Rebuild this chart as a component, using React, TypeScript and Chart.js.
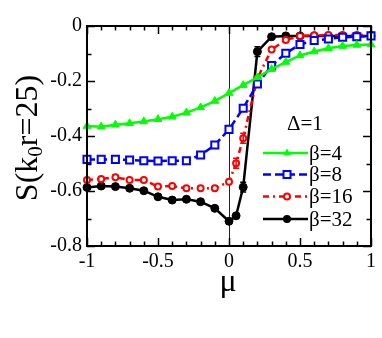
import React, { useEffect, useRef } from 'react';
import { Chart, registerables } from 'chart.js';

Chart.register(...registerables);

// ---- data ----
const muCoarse = [-1, -0.9, -0.8, -0.7, -0.6, -0.5, -0.4, -0.3, -0.2, -0.1, 0, 0.1, 0.2, 0.3, 0.4, 0.5, 0.6, 0.7, 0.8, 0.9, 1];
const muFine = [-1, -0.9, -0.8, -0.7, -0.6, -0.5, -0.4, -0.3, -0.2, -0.1, 0, 0.05, 0.1, 0.2, 0.3, 0.4, 0.5, 0.6, 0.7, 0.8, 0.9, 1];

const sBeta4 = [-0.364, -0.366, -0.359, -0.354, -0.347, -0.339, -0.33, -0.315, -0.296, -0.273, -0.244, -0.215, -0.187, -0.157, -0.131, -0.107, -0.093, -0.081, -0.073, -0.069, -0.067];
const sBeta8 = [-0.485, -0.485, -0.485, -0.487, -0.49, -0.491, -0.49, -0.49, -0.469, -0.433, -0.376, -0.299, -0.211, -0.144, -0.099, -0.067, -0.053, -0.047, -0.041, -0.039, -0.036];
const sBeta16 = [-0.56, -0.556, -0.55, -0.56, -0.56, -0.584, -0.582, -0.59, -0.59, -0.59, -0.566, -0.499, -0.408, -0.19, -0.085, -0.051, -0.036, -0.034, -0.033, -0.033, -0.033, -0.033];
const sBeta32 = [-0.587, -0.582, -0.584, -0.59, -0.599, -0.621, -0.633, -0.63, -0.639, -0.663, -0.71, -0.69, -0.586, -0.093, -0.039, -0.036, -0.036, -0.036, -0.036, -0.036, -0.036, -0.036];
const errBeta16 = [0, 0, 0, 0, 0, 0, 0, 0, 0, 0, 0, 0.018, 0.018, 0, 0, 0, 0, 0, 0, 0, 0, 0];
const errBeta32 = [0, 0, 0, 0, 0, 0, 0, 0, 0, 0, 0, 0.01, 0.018, 0.018, 0, 0, 0, 0, 0, 0, 0, 0];

const seriesLabels = ['β=4', 'β=8', 'β=16', 'β=32'];
const xTicks = [-1, -0.5, 0, 0.5, 1];
const yTicks = [0, -0.2, -0.4, -0.6, -0.8];
const minorStep = 0.1;

const SERIF = '"Liberation Serif", "DejaVu Serif", serif';

const colors = ['#00ff00', '#0000ff', '#ff0000', '#000000'];
const dashes: number[][] = [[], [8, 4], [6, 4, 2, 4], []];

function drawMarker(ctx: CanvasRenderingContext2D, i: number, x: number, y: number) {
  ctx.save();
  ctx.setLineDash([]);
  ctx.strokeStyle = colors[i];
  ctx.beginPath();
  if (i === 0) {
    const r = 4.5;
    ctx.fillStyle = colors[i];
    ctx.moveTo(x, y - r);
    ctx.lineTo(x + r * 0.866, y + r * 0.5);
    ctx.lineTo(x - r * 0.866, y + r * 0.5);
    ctx.closePath();
    ctx.fill();
  } else if (i === 1) {
    ctx.fillStyle = '#fff';
    ctx.lineWidth = 2;
    ctx.rect(x - 3.5, y - 3.5, 7, 7);
    ctx.fill();
    ctx.stroke();
  } else if (i === 2) {
    ctx.fillStyle = '#fff';
    ctx.lineWidth = 2;
    ctx.arc(x, y, 3, 0, Math.PI * 2);
    ctx.fill();
    ctx.stroke();
  } else {
    ctx.fillStyle = colors[i];
    ctx.arc(x, y, 4, 0, Math.PI * 2);
    ctx.fill();
  }
  ctx.restore();
}

const errs = [null, null, errBeta16, errBeta32];

const framePlugin = {
  id: 'framePlugin',
  beforeDatasetsDraw(chart: any) {
    const { ctx, chartArea } = chart;
    const xs = chart.scales.x;
    const x0 = Math.round(xs.getPixelForValue(0)) + 0.5;
    ctx.save();
    ctx.strokeStyle = '#222';
    ctx.lineWidth = 1;
    ctx.beginPath();
    ctx.moveTo(x0, chartArea.top);
    ctx.lineTo(x0, chartArea.bottom);
    ctx.stroke();
    ctx.restore();
  },
  afterDatasetsDraw(chart: any) {
    const { ctx } = chart;
    const xs = chart.scales.x;
    const ys = chart.scales.y;
    ctx.save();
    ctx.setLineDash([]);
    ctx.lineWidth = 1.5;
    errs.forEach((e, di) => {
      if (!e) return;
      const data = chart.data.datasets[di].data;
      ctx.strokeStyle = colors[di];
      e.forEach((ev: number, k: number) => {
        if (!ev) return;
        const px = xs.getPixelForValue(data[k].x);
        const y1 = ys.getPixelForValue(data[k].y + ev);
        const y2 = ys.getPixelForValue(data[k].y - ev);
        ctx.beginPath();
        ctx.moveTo(px, y1);
        ctx.lineTo(px, y2);
        ctx.moveTo(px - 3, y1);
        ctx.lineTo(px + 3, y1);
        ctx.moveTo(px - 3, y2);
        ctx.lineTo(px + 3, y2);
        ctx.stroke();
      });
    });
    ctx.restore();
  },
  afterDraw(chart: any) {
    const { ctx, chartArea } = chart;
    const { left, right, top, bottom } = chartArea;
    const xs = chart.scales.x;
    const ys = chart.scales.y;
    ctx.save();
    ctx.setLineDash([]);
    ctx.strokeStyle = '#000';
    ctx.lineWidth = 2;
    ctx.strokeRect(left, top, right - left, bottom - top);

    // ticks, inward, on all four sides
    ctx.lineWidth = 1.5;
    ctx.beginPath();
    const nx = Math.round((xs.max - xs.min) / minorStep);
    for (let k = 0; k <= nx; k++) {
      const v = xs.min + k * minorStep;
      const major = xTicks.some((t) => Math.abs(t - v) < 1e-6);
      const len = major ? 8 : 4.5;
      const px = Math.round(xs.getPixelForValue(v)) + 0.5;
      ctx.moveTo(px, bottom);
      ctx.lineTo(px, bottom - len);
      ctx.moveTo(px, top);
      ctx.lineTo(px, top + len);
    }
    const ny = Math.round((ys.max - ys.min) / minorStep);
    for (let k = 0; k <= ny; k++) {
      const v = ys.min + k * minorStep;
      const major = yTicks.some((t) => Math.abs(t - v) < 1e-6);
      const len = major ? 8 : 4.5;
      const py = Math.round(ys.getPixelForValue(v)) + 0.5;
      ctx.moveTo(left, py);
      ctx.lineTo(left + len, py);
      ctx.moveTo(right, py);
      ctx.lineTo(right - len, py);
    }
    ctx.stroke();

    // axis titles
    ctx.fillStyle = '#000';
    ctx.textAlign = 'center';
    ctx.textBaseline = 'alphabetic';
    ctx.font = `32px ${SERIF}`;
    ctx.fillText('μ', 228, 291);

    ctx.save();
    ctx.translate(37, (top + bottom) / 2 + 2);
    ctx.rotate(-Math.PI / 2);
    ctx.textAlign = 'left';
    const bigFont = `32px ${SERIF}`;
    const smallFont = `21px ${SERIF}`;
    const p1 = 'S(k';
    const p2 = '0';
    const p3 = 'r=25)';
    ctx.font = bigFont;
    const w1 = ctx.measureText(p1).width;
    const w3 = ctx.measureText(p3).width;
    ctx.font = smallFont;
    const w2 = ctx.measureText(p2).width;
    let cx = -(w1 + w2 + w3) / 2;
    ctx.font = bigFont;
    ctx.fillText(p1, cx, 0);
    cx += w1;
    ctx.font = smallFont;
    ctx.fillText(p2, cx, 5);
    cx += w2;
    ctx.font = bigFont;
    ctx.fillText(p3, cx, 0);
    ctx.restore();

    // legend
    ctx.textAlign = 'left';
    ctx.textBaseline = 'alphabetic';
    ctx.font = `21px ${SERIF}`;
    ctx.fillText('Δ=1', 287, 130);
    const legendY = [153, 174.5, 196.5, 219];
    const lx1 = 263;
    const lx2 = 308;
    const lm = 287;
    seriesLabels.forEach((lab, i) => {
      const y = legendY[i];
      ctx.save();
      ctx.strokeStyle = colors[i];
      ctx.lineWidth = 2.5;
      ctx.setLineDash(dashes[i]);
      ctx.beginPath();
      ctx.moveTo(lx1, y);
      ctx.lineTo(lx2, y);
      ctx.stroke();
      ctx.restore();
      drawMarker(ctx, i, lm, y);
      ctx.fillStyle = '#000';
      ctx.textBaseline = 'middle';
      ctx.font = `21px ${SERIF}`;
      ctx.fillText(lab, lx2 + 1, y + 1);
    });
    ctx.restore();
  },
};

export default function App() {
  const ref = useRef<HTMLCanvasElement | null>(null);
  useEffect(() => {
    const canvas = ref.current;
    if (!canvas) return;
    let chart: any = null;
    let cancelled = false;
    const mk = (xs: number[], ys: number[], i: number, extra: any) => ({
      label: seriesLabels[i],
      data: xs.map((m, k) => ({ x: m, y: ys[k] })),
      borderColor: colors[i],
      backgroundColor: colors[i],
      borderWidth: 2.5,
      borderDash: dashes[i],
      tension: 0,
      clip: false,
      ...extra,
    });
    const build = () => {
      if (cancelled) return;
      chart = new Chart(canvas, {
        type: 'line',
        data: {
          datasets: [
            mk(muCoarse, sBeta4, 0, { pointStyle: 'triangle', pointRadius: 4.5, pointBorderWidth: 1, pointBackgroundColor: colors[0] }),
            mk(muCoarse, sBeta8, 1, { pointStyle: 'rect', pointRadius: 5, pointBorderWidth: 2, pointBackgroundColor: '#fff' }),
            mk(muFine, sBeta16, 2, { pointStyle: 'circle', pointRadius: 3, pointBorderWidth: 2, pointBackgroundColor: '#fff' }),
            mk(muFine, sBeta32, 3, { pointStyle: 'circle', pointRadius: 4, pointBorderWidth: 1, pointBackgroundColor: colors[3] }),
          ],
        },
        options: {
          responsive: false,
          animation: false,
          devicePixelRatio: 1,
          layout: { padding: { top: 26, right: 11, left: 0, bottom: 0 } },
          plugins: { legend: { display: false }, tooltip: { enabled: false } },
          scales: {
            x: {
              type: 'linear',
              min: -1,
              max: 1,
              afterBuildTicks: (s: any) => {
                s.ticks = xTicks.map((v) => ({ value: v }));
              },
              afterFit: (s: any) => {
                s.height = 92;
              },
              ticks: {
                color: '#000',
                font: { family: SERIF, size: 20 },
                padding: 4,
                maxRotation: 0,
                autoSkip: false,
                callback: (v: any) => String(v),
              },
              grid: { display: false, drawTicks: false },
              border: { display: false },
            },
            y: {
              type: 'linear',
              min: -0.8,
              max: 0,
              afterBuildTicks: (s: any) => {
                s.ticks = yTicks.map((v) => ({ value: v }));
              },
              afterFit: (s: any) => {
                s.width = 87;
              },
              ticks: {
                color: '#000',
                font: { family: SERIF, size: 20 },
                padding: 5,
                autoSkip: false,
                callback: (v: any) => String(v),
              },
              grid: { display: false, drawTicks: false },
              border: { display: false },
            },
          },
        },
        plugins: [framePlugin],
      } as any);
    };
    const fonts: any = (document as any).fonts;
    if (fonts && fonts.load) {
      Promise.all([
        fonts.load('20px "Liberation Serif"', '0.-125μβΔ=S(kr)'),
        fonts.load('32px "Liberation Serif"', 'S(k0r=25)'),
      ])
        .catch(() => null)
        .then(() => build());
    } else {
      build();
    }
    return () => {
      cancelled = true;
      if (chart) chart.destroy();
    };
  }, []);
  return (
    <div style={{ position: 'absolute', left: 0, top: 0, width: 382, height: 338, background: '#fff' }}>
      <canvas ref={ref} width={382} height={338} style={{ width: 382, height: 338, display: 'block' }} />
    </div>
  );
}
